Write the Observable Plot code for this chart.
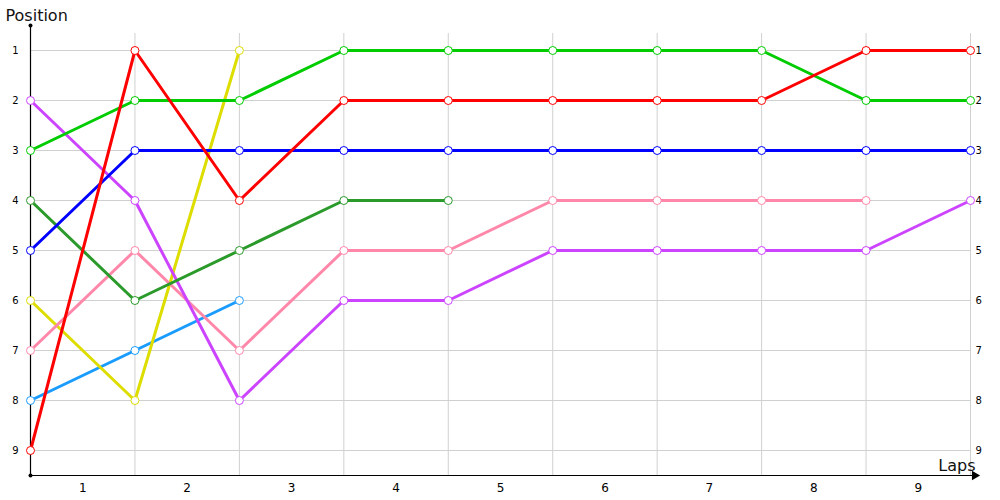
<!DOCTYPE html>
<html>
<head>
<meta charset="utf-8">
<script src="https://cdn.jsdelivr.net/npm/d3@7"></script>
<script src="https://cdn.jsdelivr.net/npm/@observablehq/plot@0.6"></script>
<style>
  html, body { margin: 0; padding: 0; background: #fff; }
  #chart svg { display: block; }
</style>
</head>
<body>
<div id="chart"></div>
<script>
const laps = [0, 1, 2, 3, 4, 5, 6, 7, 8, 9];
const lapLabels = ["1", "2", "3", "4", "5", "6", "7", "8", "9"];
const positions = [1, 2, 3, 4, 5, 6, 7, 8, 9];

const seriesNames = ["Driver H", "Driver G", "Driver F", "Driver E", "Driver D", "Driver C", "Driver B", "Driver A"];
const seriesColors = ["#1a9cff", "#dddd00", "#ff88aa", "#cc44ff", "#2a9a2a", "#0000ff", "#00cc00", "#ff0000"];

const driverA = [9, 1, 4, 2, 2, 2, 2, 2, 1, 1];   // red
const driverB = [3, 2, 2, 1, 1, 1, 1, 1, 2, 2];   // green
const driverC = [5, 3, 3, 3, 3, 3, 3, 3, 3, 3];   // blue
const driverD = [4, 6, 5, 4, 4];                  // dark green
const driverE = [2, 4, 8, 6, 6, 5, 5, 5, 5, 4];   // purple
const driverF = [7, 5, 7, 5, 5, 4, 4, 4, 4];      // pink
const driverG = [6, 8, 1];                        // yellow
const driverH = [8, 7, 6];                        // light blue

const seriesValues = [driverH, driverG, driverF, driverE, driverD, driverC, driverB, driverA];

const data = seriesNames.flatMap((name, k) =>
  seriesValues[k].map((p, i) => ({series: name, lap: laps[i], pos: p}))
);

const font = "DejaVu Sans, Verdana, sans-serif";

const chart = Plot.plot({
  width: 1000,
  height: 500,
  marginLeft: 30,
  marginRight: 30,
  marginTop: 25,
  marginBottom: 25,
  style: {fontFamily: font, background: "#fff"},
  x: {domain: [0, 9], axis: null},
  y: {domain: [0.5, 9.5], reverse: true, axis: null},
  color: {domain: seriesNames, range: seriesColors},
  marks: [
    // grid
    Plot.ruleY(positions, {x1: 0, x2: 9, stroke: "#d0d0d0", strokeWidth: 1}),
    Plot.ruleX(laps.slice(1), {y1: 0.66, y2: 9.5, stroke: "#d0d0d0", strokeWidth: 1}),
    // axes lines
    Plot.ruleX([0], {y1: 0.5, y2: 9.5, stroke: "#000", strokeWidth: 1.2}),
    Plot.ruleY([9.5], {x1: 0, x2: 9.04, stroke: "#000", strokeWidth: 1.2}),
    Plot.dot([{x: 0, y: 0.5}, {x: 0, y: 9.5}], {x: "x", y: "y", r: 2, fill: "#000", stroke: null}),
    Plot.dot([{x: 9.04, y: 9.5}], {x: "x", y: "y", symbol: "triangle", r: 3.5, rotate: 90, fill: "#000", stroke: null}),
    // tick labels
    Plot.axisY(positions, {anchor: "left", tickSize: 0, tickPadding: 12, fontSize: 10, fill: "#000", label: null, tickFormat: "d"}),
    Plot.axisY(positions, {anchor: "right", tickSize: 0, tickPadding: 5, fontSize: 10, fill: "#000", label: null, tickFormat: "d"}),
    Plot.text(lapLabels, {x: (d, i) => i + 0.5, y: 9.5, dy: 13, text: d => d, fontSize: 12, fill: "#000"}),
    // titles
    Plot.text(["Position"], {x: 0, y: 0.5, dx: -25, dy: -10, textAnchor: "start", fontSize: 16, fill: "#111"}),
    Plot.text(["Laps"], {x: 9, y: 9.5, dx: 5, dy: -10, textAnchor: "end", fontSize: 16, fill: "#111"}),
    // series
    Plot.line(data, {x: "lap", y: "pos", z: "series", stroke: "series", strokeWidth: 3, curve: "linear"}),
    Plot.dot(data, {x: "lap", y: "pos", stroke: "series", fill: "#fff", r: 4, strokeWidth: 1})
  ]
});

document.getElementById("chart").appendChild(chart);
</script>
</body>
</html>
